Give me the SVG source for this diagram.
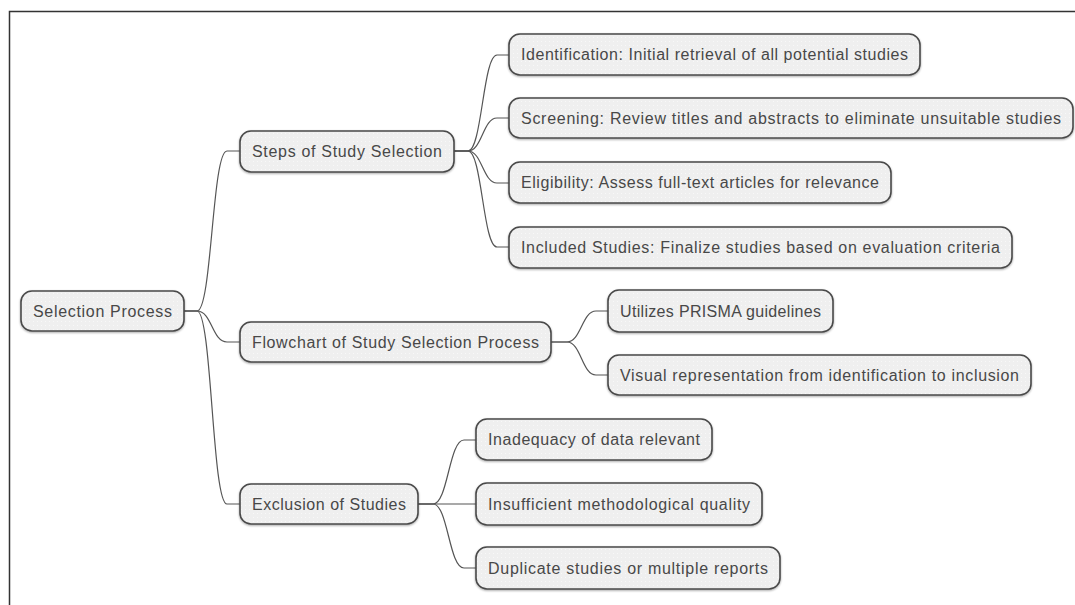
<svg xmlns="http://www.w3.org/2000/svg" width="1075" height="605" viewBox="0 0 1075 605">
<defs>
<pattern id="dots" width="4" height="4" patternUnits="userSpaceOnUse">
<rect width="4" height="4" fill="#efefef"/>
<rect x="1" y="1" width="1" height="1" fill="#f8f8f8"/>
</pattern>
<filter id="sh" x="-5%" y="-20%" width="110%" height="140%">
<feGaussianBlur in="SourceAlpha" stdDeviation="0.8"/>
<feOffset dx="0" dy="1" result="b"/>
<feComponentTransfer><feFuncA type="linear" slope="0.35"/></feComponentTransfer>
<feMerge><feMergeNode/><feMergeNode in="SourceGraphic"/></feMerge>
</filter>
</defs>
<style>
.box{fill:url(#dots);stroke:#4a4a4a;stroke-width:1.6;filter:url(#sh)}
.t{font-family:"Liberation Sans",Arial,sans-serif;font-size:16px;fill:#484848;text-anchor:middle;dominant-baseline:central}
.c{fill:none;stroke:#555;stroke-width:1.2}
.frame{fill:none;stroke:#333;stroke-width:1.5}
</style>
<rect width="1075" height="605" fill="#fff"/>
<path class="frame" d="M9.5 605 V11.5 H1075"/>
<g id="connectors">
<path class="c" d="M184 311 H197 C212 311,212 151,227 151 H240"/>
<path class="c" d="M184 311 H197 C212 311,212 342,227 342 H240"/>
<path class="c" d="M184 311 H197 C212 311,212 504,227 504 H240"/>
<path class="c" d="M454 151 H468 C482 151,483 55,497 55 H509"/>
<path class="c" d="M454 151 H468 C482 151,483 118,497 118 H509"/>
<path class="c" d="M454 151 H468 C482 151,483 183,497 183 H509"/>
<path class="c" d="M454 151 H468 C482 151,483 247,497 247 H509"/>
<path class="c" d="M551 342 H567 C581 342,582 311,596 311 H608"/>
<path class="c" d="M551 342 H567 C581 342,582 375,596 375 H608"/>
<path class="c" d="M418 504 H433 C448 504,449 440,464 440 H476"/>
<path class="c" d="M418 504 H476"/>
<path class="c" d="M418 504 H433 C448 504,449 568,464 568 H476"/>
</g>
<g id="n-root"><rect class="box" x="21" y="291" width="163" height="40" rx="11"/><text class="t" x="102.5" y="311" textLength="139" lengthAdjust="spacing">Selection Process</text></g>
<g id="n-steps"><rect class="box" x="240" y="131" width="214" height="41" rx="11"/><text class="t" x="347" y="151.5" textLength="190" lengthAdjust="spacing">Steps of Study Selection</text></g>
<g id="n-flow"><rect class="box" x="240" y="322" width="311" height="40" rx="11"/><text class="t" x="395.5" y="342" textLength="287" lengthAdjust="spacing">Flowchart of Study Selection Process</text></g>
<g id="n-excl"><rect class="box" x="240" y="484" width="178" height="40" rx="11"/><text class="t" x="329" y="504" textLength="154" lengthAdjust="spacing">Exclusion of Studies</text></g>
<g id="n-ident"><rect class="box" x="509" y="34" width="411" height="41" rx="11"/><text class="t" x="714.5" y="54.5" textLength="387" lengthAdjust="spacing">Identification: Initial retrieval of all potential studies</text></g>
<g id="n-screen"><rect class="box" x="509" y="98" width="564" height="40" rx="11"/><text class="t" x="791" y="118" textLength="540" lengthAdjust="spacing">Screening: Review titles and abstracts to eliminate unsuitable studies</text></g>
<g id="n-elig"><rect class="box" x="509" y="162" width="382" height="41" rx="11"/><text class="t" x="700" y="182.5" textLength="358" lengthAdjust="spacing">Eligibility: Assess full-text articles for relevance</text></g>
<g id="n-incl"><rect class="box" x="509" y="227" width="503" height="41" rx="11"/><text class="t" x="760.5" y="247.5" textLength="479" lengthAdjust="spacing">Included Studies: Finalize studies based on evaluation criteria</text></g>
<g id="n-prisma"><rect class="box" x="608" y="290" width="225" height="42" rx="11"/><text class="t" x="720.5" y="311" textLength="201" lengthAdjust="spacing">Utilizes PRISMA guidelines</text></g>
<g id="n-visual"><rect class="box" x="608" y="355" width="423" height="40" rx="11"/><text class="t" x="819.5" y="375" textLength="399" lengthAdjust="spacing">Visual representation from identification to inclusion</text></g>
<g id="n-inadeq"><rect class="box" x="476" y="419" width="236" height="41" rx="11"/><text class="t" x="594" y="439.5" textLength="212" lengthAdjust="spacing">Inadequacy of data relevant</text></g>
<g id="n-insuff"><rect class="box" x="476" y="483" width="286" height="42" rx="11"/><text class="t" x="619" y="504" textLength="262" lengthAdjust="spacing">Insufficient methodological quality</text></g>
<g id="n-dup"><rect class="box" x="476" y="547" width="304" height="42" rx="11"/><text class="t" x="628" y="568" textLength="280" lengthAdjust="spacing">Duplicate studies or multiple reports</text></g>
</svg>
